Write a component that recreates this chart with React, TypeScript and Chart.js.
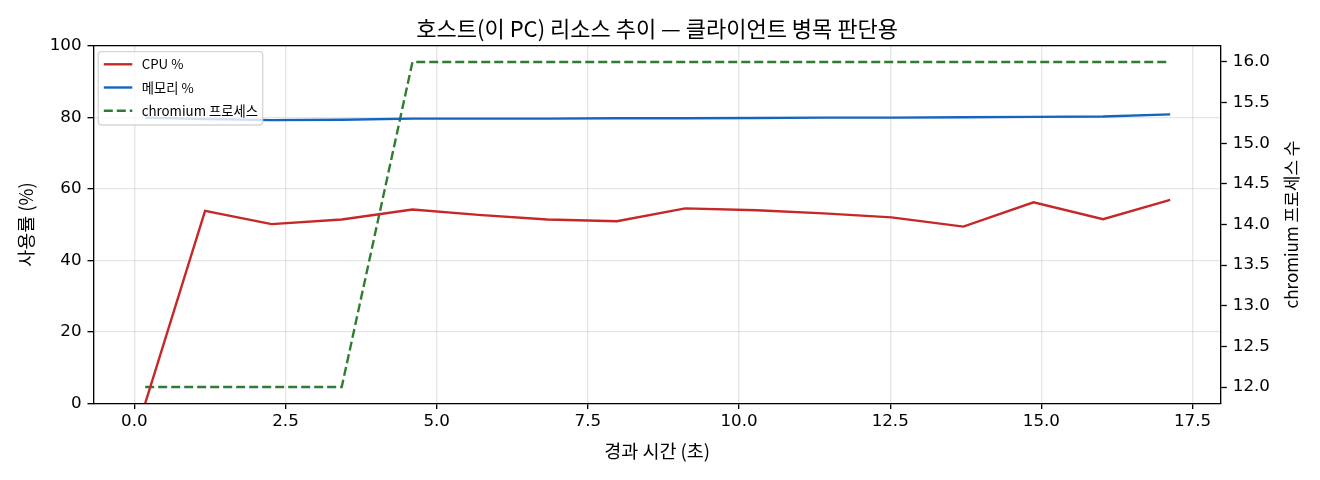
import React, { useEffect, useRef } from "react";
import { Chart, registerables } from "chart.js";

Chart.register(...registerables);

// ---- data ----
const timeSec = [0.18, 1.17, 2.27, 3.43, 4.6, 5.69, 6.83, 7.98, 9.11, 10.29, 11.4, 12.52, 13.71, 14.87, 16.02, 17.13];
const cpuPct = [0.0, 53.8, 50.1, 51.4, 54.2, 52.7, 51.4, 50.9, 54.5, 54.0, 53.1, 52.0, 49.4, 56.2, 51.5, 56.9];
const memPct = [79.9, 79.5, 79.2, 79.3, 79.6, 79.6, 79.6, 79.7, 79.7, 79.8, 79.9, 79.9, 80.0, 80.1, 80.2, 80.8];
const chromiumProcs = [12, 12, 12, 12, 16, 16, 16, 16, 16, 16, 16, 16, 16, 16, 16, 16];

const xTickValues = [0, 2.5, 5, 7.5, 10, 12.5, 15, 17.5];
const leftTickValues = [0, 20, 40, 60, 80, 100];
const rightTickValues = [12.0, 12.5, 13.0, 13.5, 14.0, 14.5, 15.0, 15.5, 16.0];

const seriesLabels = ["CPU %", "메모리 %", "chromium 프로세스"];
const seriesColors = ["#c62828", "#1565c0", "#2e7d32"];
const titleText = "호스트(이 PC) 리소스 추이 — 클라이언트 병목 판단용";
const xTitle = "경과 시간 (초)";
const yTitle = "사용률 (%)";
const y1Title = "chromium 프로세스 수";

const X_MIN = -0.678;
const X_MAX = 17.97;
const Y1_MIN = 11.8;
const Y1_MAX = 16.2;

const TICK_FONT = "'DejaVu Sans', 'Noto Sans CJK KR', sans-serif";
const LABEL_FONT = "'Noto Sans CJK KR', 'DejaVu Sans', sans-serif";
const GRID = "rgba(176,176,176,0.32)";

const decorPlugin = {
  id: "decor",
  afterDatasetsDraw(chart: any) {
    const ctx = chart.ctx as CanvasRenderingContext2D;
    const { left, top } = chart.chartArea;
    // legend box (upper left)
    const bx = left + 5;
    const by = top + 6;
    const bw = 164.4;
    const bh = 73.3;
    const r = 3;
    ctx.save();
    ctx.beginPath();
    ctx.moveTo(bx + r, by);
    ctx.lineTo(bx + bw - r, by);
    ctx.quadraticCurveTo(bx + bw, by, bx + bw, by + r);
    ctx.lineTo(bx + bw, by + bh - r);
    ctx.quadraticCurveTo(bx + bw, by + bh, bx + bw - r, by + bh);
    ctx.lineTo(bx + r, by + bh);
    ctx.quadraticCurveTo(bx, by + bh, bx, by + bh - r);
    ctx.lineTo(bx, by + r);
    ctx.quadraticCurveTo(bx, by, bx + r, by);
    ctx.closePath();
    ctx.fillStyle = "rgba(255,255,255,0.8)";
    ctx.fill();
    ctx.strokeStyle = "rgba(204,204,204,0.8)";
    ctx.lineWidth = 1.33;
    ctx.stroke();

    const rows = [by + 12.6, by + 35.8, by + 59];
    chart.data.datasets.forEach((ds: any, i: number) => {
      const yy = rows[i];
      ctx.beginPath();
      ctx.setLineDash(ds.borderDash || []);
      ctx.strokeStyle = ds.borderColor;
      ctx.lineWidth = ds.borderWidth;
      ctx.moveTo(bx + 5.5, yy);
      ctx.lineTo(bx + 34, yy);
      ctx.stroke();
      ctx.setLineDash([]);
      ctx.fillStyle = "#000";
      ctx.font = `13.3px ${LABEL_FONT}`;
      ctx.textAlign = "left";
      ctx.textBaseline = "middle";
      ctx.fillText(ds.label, bx + 43.4, yy);
    });
    ctx.restore();
  },
  afterDraw(chart: any) {
    const ctx = chart.ctx as CanvasRenderingContext2D;
    const { left, right, top, bottom } = chart.chartArea;
    const cx = (left + right) / 2;
    const cy = (top + bottom) / 2;
    ctx.save();
    // top spine
    ctx.beginPath();
    ctx.strokeStyle = "#000";
    ctx.lineWidth = 1.33;
    ctx.moveTo(left, top);
    ctx.lineTo(right, top);
    ctx.stroke();

    ctx.fillStyle = "#000";
    ctx.textAlign = "center";
    ctx.textBaseline = "middle";
    // title
    ctx.font = `22px ${LABEL_FONT}`;
    ctx.fillText(titleText, cx, 28.5);
    // x axis title
    ctx.font = `18.5px ${LABEL_FONT}`;
    ctx.fillText(xTitle, cx, 451);
    // left y title
    ctx.save();
    ctx.translate(26, cy);
    ctx.rotate(-Math.PI / 2);
    ctx.fillText(yTitle, 0, 0);
    ctx.restore();
    // right y title (reads bottom to top)
    ctx.font = `17px ${LABEL_FONT}`;
    ctx.save();
    ctx.translate(1292, cy);
    ctx.rotate(-Math.PI / 2);
    ctx.fillText(y1Title, 0, 0);
    ctx.restore();
    ctx.restore();
  },
};

export default function App() {
  const canvasRef = useRef<HTMLCanvasElement | null>(null);

  useEffect(() => {
    document.body.style.margin = "0";
    const canvas = canvasRef.current;
    if (!canvas) return;

    const toPoints = (ys: number[]) => timeSec.map((x, i) => ({ x, y: ys[i] }));

    const tickFont = { family: TICK_FONT, size: 16.7 };

    const chart = new Chart(canvas, {
      type: "line",
      data: {
        datasets: [
          {
            label: seriesLabels[0],
            data: toPoints(cpuPct),
            borderColor: seriesColors[0],
            backgroundColor: seriesColors[0],
            borderWidth: 2.4,
            pointRadius: 0,
            tension: 0,
            yAxisID: "y",
          },
          {
            label: seriesLabels[1],
            data: toPoints(memPct),
            borderColor: seriesColors[1],
            backgroundColor: seriesColors[1],
            borderWidth: 2.4,
            pointRadius: 0,
            tension: 0,
            yAxisID: "y",
          },
          {
            label: seriesLabels[2],
            data: toPoints(chromiumProcs),
            borderColor: seriesColors[2],
            backgroundColor: seriesColors[2],
            borderWidth: 2.4,
            borderDash: [9, 4],
            pointRadius: 0,
            tension: 0,
            yAxisID: "y1",
          },
        ],
      },
      options: {
        animation: false,
        responsive: false,
        devicePixelRatio: window.devicePixelRatio || 1,
        layout: { padding: { top: 45.7, left: 0, right: 0, bottom: 0 } },
        plugins: {
          legend: { display: false },
          title: { display: false },
          tooltip: { enabled: false },
        },
        scales: {
          x: {
            type: "linear",
            position: "bottom",
            min: X_MIN,
            max: X_MAX,
            afterBuildTicks: (s: any) => {
              s.ticks = xTickValues.map((v) => ({ value: v }));
            },
            afterFit: (s: any) => {
              s.height = 76.7;
            },
            ticks: {
              callback: (v: any) => Number(v).toFixed(1),
              font: tickFont,
              color: "#000",
              padding: 3,
              maxRotation: 0,
              autoSkip: false,
            },
            grid: {
              color: GRID,
              lineWidth: 1.33,
              drawOnChartArea: true,
              drawTicks: true,
              tickLength: 5.8,
              tickColor: "#000",
              tickWidth: 1.33,
            },
            border: { display: true, color: "#000", width: 1.33 },
          },
          y: {
            type: "linear",
            position: "left",
            min: 0,
            max: 100,
            afterBuildTicks: (s: any) => {
              s.ticks = leftTickValues.map((v) => ({ value: v }));
            },
            afterFit: (s: any) => {
              s.width = 93.3;
            },
            ticks: {
              callback: (v: any) => String(v),
              font: tickFont,
              color: "#000",
              padding: 6,
            },
            grid: {
              color: GRID,
              lineWidth: 1.33,
              drawOnChartArea: true,
              drawTicks: true,
              tickLength: 5.8,
              tickColor: "#000",
              tickWidth: 1.33,
            },
            border: { display: true, color: "#000", width: 1.33 },
          },
          y1: {
            type: "linear",
            position: "right",
            min: Y1_MIN,
            max: Y1_MAX,
            afterBuildTicks: (s: any) => {
              s.ticks = rightTickValues.map((v) => ({ value: v }));
            },
            afterFit: (s: any) => {
              s.width = 99;
            },
            ticks: {
              callback: (v: any) => Number(v).toFixed(1),
              font: tickFont,
              color: "#000",
              padding: 6,
            },
            grid: {
              drawOnChartArea: false,
              drawTicks: true,
              tickLength: 5.8,
              tickColor: "#000",
              tickWidth: 1.33,
            },
            border: { display: true, color: "#000", width: 1.33 },
          },
        },
      },
      plugins: [decorPlugin],
    } as any);

    return () => {
      chart.destroy();
    };
  }, []);

  return (
    <div style={{ width: 1320, height: 480, background: "#fff" }}>
      <canvas ref={canvasRef} width={1320} height={480} style={{ display: "block", width: 1320, height: 480 }} />
    </div>
  );
}
